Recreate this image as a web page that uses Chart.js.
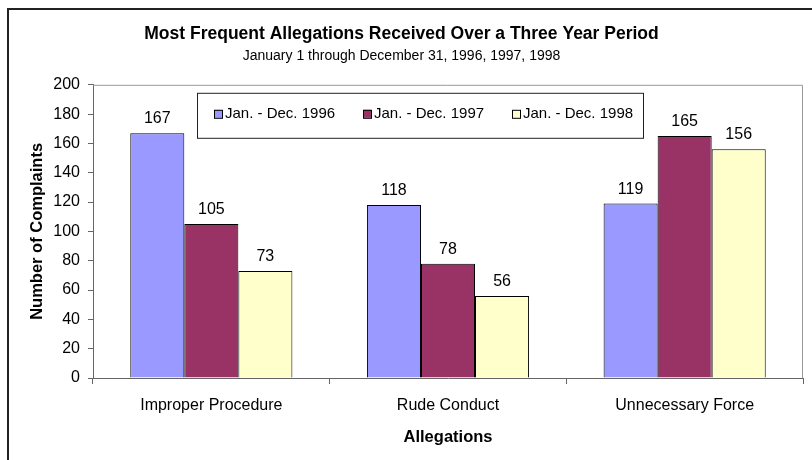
<!DOCTYPE html>
<html>
<head>
<meta charset="utf-8">
<script src="https://cdn.jsdelivr.net/npm/chart.js@4.4.0/dist/chart.umd.min.js"></script>
<style>
  html, body { margin: 0; padding: 0; background: #fff; }
  #wrap { width: 812px; height: 460px; }
</style>
</head>
<body>
<div id="wrap"><canvas id="allegChart" width="812" height="460"></canvas></div>
<script>
// data
var categories = ['Improper Procedure', 'Rude Conduct', 'Unnecessary Force'];
var seriesNames = ['Jan. - Dec. 1996', 'Jan. - Dec. 1997', 'Jan. - Dec. 1998'];
var values1996 = [167, 118, 119];
var values1997 = [105, 78, 165];
var values1998 = [73, 56, 156];
var yTicks = [0, 20, 40, 60, 80, 100, 120, 140, 160, 180, 200];

var barColors = ['#9999FF', '#993366', '#FFFFCC'];
var FONT = '"Liberation Sans", Arial, sans-serif';

// white page + the old excel frame (top & left edge only)
var framePlugin = {
    id: 'frame',
    beforeDraw: function (chart) {
        var ctx = chart.ctx;
        ctx.save();
        ctx.fillStyle = '#fff';
        ctx.fillRect(0, 0, chart.width, chart.height);
        ctx.strokeStyle = '#222';
        ctx.lineWidth = 2;
        ctx.beginPath();
        ctx.moveTo(8, chart.height);
        ctx.lineTo(8, 9);
        ctx.lineTo(chart.width, 9);
        ctx.stroke();
        ctx.restore();
    },
    afterDraw: function (chart) {
        // grey border on top and right of plot area
        var a = chart.chartArea, ctx = chart.ctx;
        ctx.save();
        ctx.strokeStyle = '#999';
        ctx.lineWidth = 1;
        ctx.beginPath();
        ctx.moveTo(a.left, a.top + 0.5);
        ctx.lineTo(a.right - 0.5, a.top + 0.5);
        ctx.lineTo(a.right - 0.5, a.bottom);
        ctx.stroke();
        ctx.restore();
    }
};

// numbers above each bar
var valueLabels = {
    id: 'valueLabels',
    afterDatasetsDraw: function (chart) {
        var ctx = chart.ctx;
        ctx.save();
        ctx.font = '16px ' + FONT;
        ctx.fillStyle = '#000';
        ctx.textAlign = 'center';
        ctx.textBaseline = 'alphabetic';
        chart.data.datasets.forEach(function (ds, i) {
            var meta = chart.getDatasetMeta(i);
            meta.data.forEach(function (bar, j) {
                ctx.fillText(String(ds.data[j]), bar.x, bar.y - 10);
            });
        });
        ctx.restore();
    }
};

// boxed legend sitting inside the plot area
var boxLegend = {
    id: 'boxLegend',
    afterDraw: function (chart) {
        var a = chart.chartArea, ctx = chart.ctx;
        var left = a.left + 104, top = a.top + 8, w = 446, h = 45;
        ctx.save();
        ctx.strokeStyle = '#222';
        ctx.lineWidth = 1;
        ctx.strokeRect(left + 0.5, top + 0.5, w, h);
        ctx.font = '15px ' + FONT;
        ctx.textBaseline = 'middle';
        ctx.textAlign = 'left';
        var cy = top + 21;
        chart.data.datasets.forEach(function (ds, i) {
            var x = left + 17 + i * 149;
            ctx.fillStyle = ds.backgroundColor;
            ctx.fillRect(x, cy - 4, 8, 8);
            ctx.strokeStyle = '#000';
            ctx.strokeRect(x + 0.5, cy - 4 + 0.5, 8, 8);
            ctx.fillStyle = '#000';
            ctx.fillText(ds.label, x + 11, cy);
        });
        ctx.restore();
    }
};

var datasets = [values1996, values1997, values1998].map(function (vals, i) {
    return {
        label: seriesNames[i],
        data: vals,
        backgroundColor: barColors[i],
        borderColor: '#000',
        borderWidth: 1,
        categoryPercentage: 0.685,
        barPercentage: 1.0
    };
});

new Chart(document.getElementById('allegChart').getContext('2d'), {
    type: 'bar',
    data: { labels: categories, datasets: datasets },
    plugins: [framePlugin, valueLabels, boxLegend],
    options: {
        responsive: false,
        animation: false,
        layout: { padding: { left: 0, right: 9, top: 0, bottom: 0 } },
        plugins: {
            legend: { display: false },
            tooltip: { enabled: false },
            title: {
                display: true,
                text: 'Most Frequent Allegations Received Over a Three Year Period',
                color: '#000',
                font: { family: FONT, size: 17.5, weight: 'bold', lineHeight: 1.2 },
                padding: { top: 23.5, bottom: 2 }
            },
            subtitle: {
                display: true,
                text: 'January 1 through December 31, 1996, 1997, 1998',
                color: '#000',
                font: { family: FONT, size: 14, lineHeight: 1.2 },
                padding: { top: 1, bottom: 20.5 }
            }
        },
        scales: {
            x: {
                offset: true,
                grid: { display: true, drawOnChartArea: false, tickLength: 6, color: '#666', offset: true },
                border: { color: '#666', width: 1 },
                ticks: { color: '#000', font: { family: FONT, size: 16 }, padding: 12, maxRotation: 0 },
                title: {
                    display: true,
                    text: 'Allegations',
                    color: '#000',
                    font: { family: FONT, size: 16.5, weight: 'bold', lineHeight: 1.2 },
                    padding: { top: 0, bottom: 13 }
                },
                afterFit: function (s) { s.height = 82; }
            },
            y: {
                min: 0,
                max: 200,
                afterBuildTicks: function (s) { s.ticks = yTicks.map(function (v) { return { value: v }; }); },
                grid: { display: true, drawOnChartArea: false, tickLength: 5, color: '#666' },
                border: { color: '#666', width: 1 },
                ticks: { color: '#000', font: { family: FONT, size: 16 }, padding: 8 },
                title: {
                    display: true,
                    text: 'Number of Complaints',
                    color: '#000',
                    font: { family: FONT, size: 16.5, weight: 'bold', lineHeight: 1.2 },
                    padding: { top: 28, bottom: 0 }
                },
                afterFit: function (s) { s.width = 93; }
            }
        }
    }
});
</script>
</body>
</html>
